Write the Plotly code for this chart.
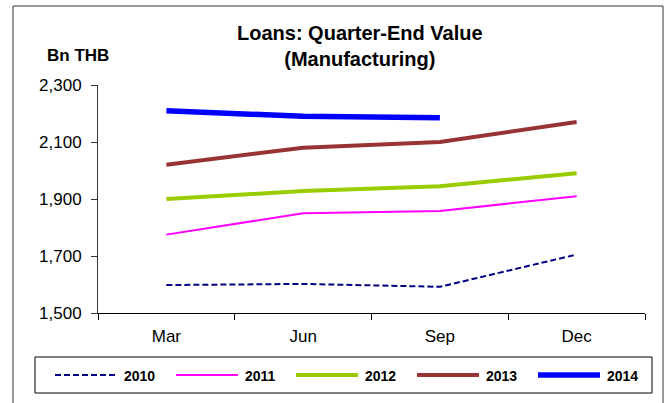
import plotly.graph_objects as go

quarters = ["Mar", "Jun", "Sep", "Dec"]
loans_2010 = [1598, 1602, 1592, 1705]
loans_2011 = [1775, 1850, 1858, 1910]
loans_2012 = [1900, 1928, 1945, 1990]
loans_2013 = [2020, 2080, 2100, 2170]
loans_2014 = [2210, 2190, 2185]

series = [
    ("2010", loans_2010, dict(color="#000080", width=2, dash="6px,3px")),
    ("2011", loans_2011, dict(color="#FF00FF", width=2)),
    ("2012", loans_2012, dict(color="#99CC00", width=4)),
    ("2013", loans_2013, dict(color="#993333", width=4)),
    ("2014", loans_2014, dict(color="#0000FF", width=5.5)),
]

W, H = 670, 403
L, R, T, B = 98, 645, 85, 313  # plot area in pixels


def px(x):
    return (x - L) / (R - L)


def py(y):
    return (B - y) / (B - T)


fig = go.Figure()
for name, vals, line in series:
    fig.add_trace(go.Scatter(
        x=quarters[:len(vals)], y=vals,
        mode="lines", name=name, line=line, showlegend=False,
    ))

font = "Liberation Sans, Arial, sans-serif"

# --- boxed legend below the axis, drawn by hand to match the long keys ---
shapes = [
    dict(type="rect", xref="paper", yref="paper",
         x0=px(13), x1=px(663), y0=py(420), y1=py(6),
         line=dict(color="#333333", width=1)),
    dict(type="rect", xref="paper", yref="paper",
         x0=px(35), x1=px(652), y0=py(393), y1=py(357),
         line=dict(color="black", width=1)),
]
annotations = []
key_x = [55, 176, 296, 417, 538]
for (name, _, line), x0 in zip(series, key_x):
    shapes.append(dict(type="line", xref="paper", yref="paper",
                       x0=px(x0), x1=px(x0 + 62), y0=py(375), y1=py(375),
                       line=line))
    annotations.append(dict(text=f"<b>{name}</b>", xref="paper", yref="paper",
                            x=px(x0 + 67), y=py(376), xanchor="left",
                            yanchor="middle", showarrow=False,
                            font=dict(size=14)))

annotations += [
    dict(text="<b>Loans: Quarter-End Value<br>(Manufacturing)</b>",
         xref="paper", yref="paper", x=px(360), y=py(20),
         xanchor="center", yanchor="top", showarrow=False,
         font=dict(size=20)),
    dict(text="<b>Bn THB</b>", xref="paper", yref="paper",
         x=px(78), y=py(55), xanchor="center", yanchor="middle",
         showarrow=False, font=dict(size=17)),
]

fig.update_layout(
    width=W, height=H,
    margin=dict(l=L, r=W - R, t=T, b=H - B),
    paper_bgcolor="white", plot_bgcolor="white",
    font=dict(family=font, color="black"),
    annotations=annotations,
    shapes=shapes,
)

fig.update_xaxes(
    range=[-0.5, 3.5],
    showline=True, linecolor="black", linewidth=1,
    ticks="outside", tickson="boundaries", ticklen=6, tickcolor="black",
    showgrid=False, tickfont=dict(size=17), ticklabelstandoff=8,
)
fig.update_yaxes(
    range=[1500, 2300], tick0=1500, dtick=200, tickformat=",",
    showline=True, linecolor="#333333", linewidth=1,
    ticks="outside", ticklen=6, tickcolor="#333333",
    showgrid=False, zeroline=False, tickfont=dict(size=17),
    ticklabelstandoff=6,
)

fig.write_html("out.html", config={"displayModeBar": False},
               post_script="document.body.style.margin='0';")
